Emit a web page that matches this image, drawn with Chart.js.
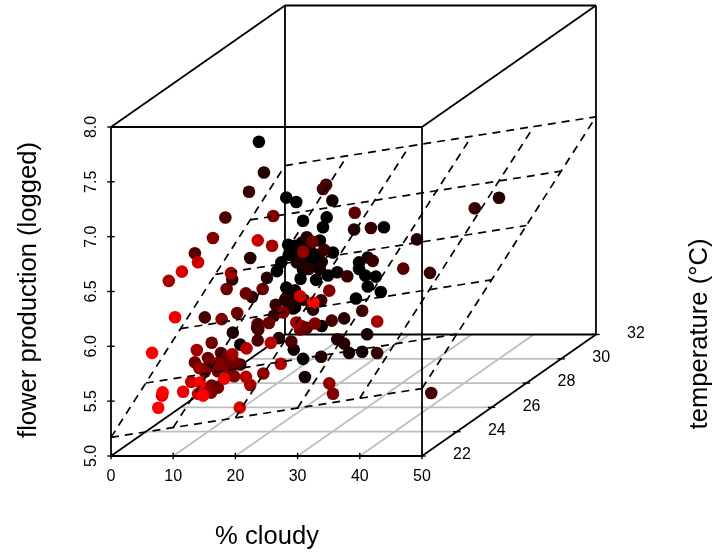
<!DOCTYPE html>
<html>
<head>
<meta charset="utf-8">
<title>flower production</title>
<script src="https://cdn.jsdelivr.net/npm/chart.js@4"></script>
<style>
  html, body { margin: 0; padding: 0; background: #fff; }
  canvas { display: block; }
</style>
</head>
<body>
<canvas id="chart" width="719" height="556"></canvas>
<script>
// values, one row per temperature step
var cloudy = [
  4.2,1.2,7.1,8.6,10.2,11.3,15.1,14.5,14.0,8.9,10.0,10.3,12.1,16.1,7.8,10.3,
  15.3,16.8,20.3,20.3,21.3,23.0,21.7,23.8,19.8,10.9,24.3,9.2,9.7,10.0,14.3,11.3,
  11.1,12.4,13.4,9.0,12.7,11.3,13.4,8.6,10.5,
  13.0,20.1,22.2,23.0,15.7,15.4,23.1,17.4,11.4,10.1,11.2,
  11.8,15.7,20.7,19.6,20.7,7.8,5.6,2.8,8.3,10.2,22.3,14.7,15.0,17.0,45.6,32.4,14.2,11.2,13.6,
  0.4,26.4,43.1,6.8,7.3,26.7,18.4,27.4,35.9,18.9,11.1,4.1,8.1,10.8,22.6,
  1.1,37.5,4.4,9.6,9.7,9.6,15.0,26.4,21.5,20.6,20.1,6.8,
  0.9,26.6,34.4,5.1,18.9,
  9.1,7.4,10.5,5.0,2.3,6.0,8.7,5.0,13.2,14.2,19.2,19.5,21.2,4.4,7.3,7.6,6.0,
  8.0,6.6,16.3,17.9,23.0,25.3,25.9,7.3,10.0,6.3,8.0,5.3,
  26.7,5.8,16.1,22.5,6.7,
  35.8,6.8,12.5,12.3,2.3,15.4,22.8,18.9,
  16.2,16.1,20.1,21.7,
  19.4,26.2,8.7,9.8,9.8,
  8.6,17.9,5.4,
  16.8,10.2,8.9,
  8.3,14.3,14.8,6.6,7.6,32.5
];
var temperature = [
  29,29,29,29,29,29,29,29,29,29,29,29,29,29,29,29,
  29,29,29,29,29,29,29,29,29,29,29,29,29,29,29,29,
  29,29,29,29,29,29,29,29,29,
  28.5,28.5,28.5,28.5,28.5,28.5,28.5,28.5,28.5,28.5,28.5,
  28,28,28,28,28,28,28,28,28,28,28,28,28,28,28,28,28,28,28,
  27.5,27.5,27.5,27.5,27.5,27.5,27.5,27.5,27.5,27.5,27.5,27.5,27.5,27.5,27.5,
  27,27,27,27,27,27,27,27,27,27,27,27,
  26.5,26.5,26.5,26.5,26.5,
  26,26,26,26,26,26,26,26,26,26,26,26,26,26,26,26,26,
  25.5,25.5,25.5,25.5,25.5,25.5,25.5,25.5,25.5,25.5,25.5,25.5,
  25,25,25,25,25,
  24.5,24.5,24.5,24.5,24.5,24.5,24.5,24.5,
  24,24,24,24,
  23.5,23.5,23.5,23.5,23.5,
  23,23,23,
  22.5,22.5,22.5,
  22,22,22,22,22,22
];
var logFlower = [
  7.09,5.24,5.91,6.58,6.54,6.37,6.40,6.31,6.19,6.15,6.14,6.07,6.04,6.08,5.99,5.99,
  5.87,5.90,5.99,5.93,5.87,5.86,5.77,5.72,5.66,5.84,6.31,5.66,5.57,5.58,5.41,5.11,
  6.17,6.10,6.06,6.06,5.97,5.92,5.83,5.76,5.65,
  5.00,5.22,5.23,5.39,6.05,5.98,6.09,6.61,5.79,5.73,5.25,
  5.71,5.67,5.59,5.40,5.36,6.92,6.14,5.46,5.96,5.41,6.40,6.33,6.04,5.24,6.69,6.31,5.76,5.76,6.10,
  5.21,6.47,6.65,6.80,5.84,6.17,5.81,5.33,6.06,6.27,5.77,6.00,5.56,5.67,6.03,
  5.71,5.02,6.62,5.65,5.60,5.50,5.49,5.77,5.68,6.92,6.88,5.28,
  6.35,6.72,6.21,5.44,5.67,
  5.86,6.08,6.04,5.59,5.41,5.33,5.41,5.20,6.08,5.77,5.71,5.74,6.51,5.45,5.45,5.36,5.18,
  5.86,6.60,6.80,5.92,5.82,6.12,5.18,5.46,5.34,5.19,5.41,5.38,
  5.33,5.47,5.42,6.53,5.27,
  5.95,5.69,5.65,6.39,6.32,5.37,5.94,6.64,
  5.76,5.50,5.81,5.62,
  6.80,6.29,5.51,5.40,6.60,
  6.57,5.33,5.44,
  5.65,5.53,6.21,
  5.58,5.67,5.55,5.94,5.44,6.40
];

var cloudyTicks = [0, 10, 20, 30, 40, 50];
var tempTicks = [22, 24, 26, 28, 30, 32];
var flowerTicks = [5, 5.5, 6, 6.5, 7, 7.5, 8];

// fitted plane: flower = planeBase + planeCloudy * cloudy + planeTemp * (temp - 22)
var planeBase = 5.17;
var planeCloudy = 0.0089;
var planeTemp = 0.137;

// oblique projection of the depth axis
var depthX = 2.797;
var depthY = 0.1108;
var hottest = 29, coolest = 22;

function project(c, t, z) {
  return { x: c + (t - 22) * depthX, y: z + (t - 22) * depthY };
}

function segment(a, b, color, width, order, dash) {
  return {
    type: 'scatter', showLine: true, data: [a, b], borderColor: color, borderWidth: width,
    borderDash: dash || [], pointRadius: 0, order: order, borderCapStyle: 'butt', fill: false
  };
}

var datasets = [];
var cMin = cloudyTicks[0], cMax = cloudyTicks[5];
var tMin = tempTicks[0], tMax = tempTicks[5];
var zMin = flowerTicks[0], zMax = flowerTicks[6];

// floor grid
cloudyTicks.slice(1, 5).forEach(function (c) {
  datasets.push(segment(project(c, tMin, zMin), project(c, tMax, zMin), '#bebebe', 1.8, 6));
});
tempTicks.slice(1, 5).forEach(function (t) {
  datasets.push(segment(project(cMin, t, zMin), project(cMax, t, zMin), '#bebebe', 1.8, 6));
});

// back of the box
[
  [[cMin, tMin, zMin], [cMin, tMax, zMin]],
  [[cMin, tMax, zMin], [cMax, tMax, zMin]],
  [[cMax, tMin, zMin], [cMax, tMax, zMin]],
  [[cMin, tMax, zMin], [cMin, tMax, zMax]],
  [[cMax, tMax, zMin], [cMax, tMax, zMax]],
  [[cMin, tMax, zMax], [cMax, tMax, zMax]],
  [[cMin, tMin, zMax], [cMin, tMax, zMax]],
  [[cMax, tMin, zMax], [cMax, tMax, zMax]]
].forEach(function (e) {
  datasets.push(segment(project.apply(null, e[0]), project.apply(null, e[1]), '#000', 1.8, 5));
});

// points, back to front
var idx = cloudy.map(function (v, i) { return i; });
idx.sort(function (a, b) { return temperature[b] - temperature[a]; });
datasets.push({
  type: 'scatter',
  order: 4,
  data: idx.map(function (i) { return project(cloudy[i], temperature[i], logFlower[i]); }),
  pointRadius: 6.3,
  pointBorderWidth: 0,
  pointBackgroundColor: idx.map(function (i) {
    var r = Math.round(255 * (hottest - temperature[i]) / (hottest - coolest));
    return 'rgb(' + r + ',0,0)';
  })
});

// dashed plane
function planeZ(c, t) {
  return planeBase + planeCloudy * c + planeTemp * (t - 22);
}
cloudyTicks.forEach(function (c) {
  datasets.push(segment(project(c, tMin, planeZ(c, tMin)), project(c, tMax, planeZ(c, tMax)), '#000', 1.7, 3, [8, 6]));
});
tempTicks.forEach(function (t) {
  datasets.push(segment(project(cMin, t, planeZ(cMin, t)), project(cMax, t, planeZ(cMax, t)), '#000', 1.7, 3, [8, 6]));
});

// front of the box and the ticks
[
  [[cMin, tMin, zMin], [cMax, tMin, zMin]],
  [[cMin, tMin, zMin], [cMin, tMin, zMax]],
  [[cMax, tMin, zMin], [cMax, tMin, zMax]],
  [[cMin, tMin, zMax], [cMax, tMin, zMax]]
].forEach(function (e) {
  datasets.push(segment(project.apply(null, e[0]), project.apply(null, e[1]), '#000', 1.8, 2));
});
cloudyTicks.forEach(function (c) {
  datasets.push(segment(project(c, tMin, zMin - 0.03), project(c, tMin, zMin + 0.03), '#000', 1.4, 1));
});
flowerTicks.forEach(function (z) {
  datasets.push(segment(project(cMin - 0.6, tMin, z), project(cMin + 0.6, tMin, z), '#000', 1.4, 1));
});
tempTicks.forEach(function (t) {
  datasets.push(segment(project(cMax - 0.6, t, zMin), project(cMax + 0.6, t, zMin), '#000', 1.4, 1));
});

var labelPlugin = {
  id: 'labels',
  afterDraw: function (chart) {
    var ctx = chart.ctx, sx = chart.scales.x, sy = chart.scales.y;
    function at(c, t, z) {
      var p = project(c, t, z);
      return { x: sx.getPixelForValue(p.x), y: sy.getPixelForValue(p.y) };
    }
    function text(str, x, y, size, rot) {
      ctx.save();
      ctx.translate(x, y);
      ctx.rotate(rot || 0);
      ctx.font = size + 'px "Liberation Sans", Arial, sans-serif';
      ctx.textAlign = 'center';
      ctx.textBaseline = 'middle';
      ctx.fillStyle = '#000';
      ctx.fillText(str, 0, 0);
      ctx.restore();
    }
    ctx.save();
    cloudyTicks.forEach(function (c) {
      var p = at(c, tMin, zMin);
      text(String(c), p.x, p.y + 21, 16);
    });
    flowerTicks.forEach(function (z) {
      var p = at(cMin, tMin, z);
      text(z.toFixed(1), p.x - 19, p.y, 16, -Math.PI / 2);
    });
    tempTicks.forEach(function (t) {
      var p = at(cMax, t, zMin);
      text(String(t), p.x + 40, p.y - 1, 16);
    });
    text('% cloudy', 267, 537, 25.6);
    text('flower production (logged)', 29, 290, 25.6, -Math.PI / 2);
    text('temperature (\u00b0C)', 700, 334, 25.6, -Math.PI / 2);
    ctx.restore();
  }
};

new Chart(document.getElementById('chart'), {
  type: 'scatter',
  data: { datasets: datasets },
  plugins: [labelPlugin],
  options: {
    responsive: false,
    animation: false,
    layout: { padding: 0, autoPadding: false },
    plugins: { legend: { display: false }, tooltip: { enabled: false } },
    scales: {
      x: { type: 'linear', display: false, min: -17.846, max: 97.749 },
      y: { type: 'linear', display: false, min: 4.088, max: 9.158 }
    }
  }
});
</script>
</body>
</html>
